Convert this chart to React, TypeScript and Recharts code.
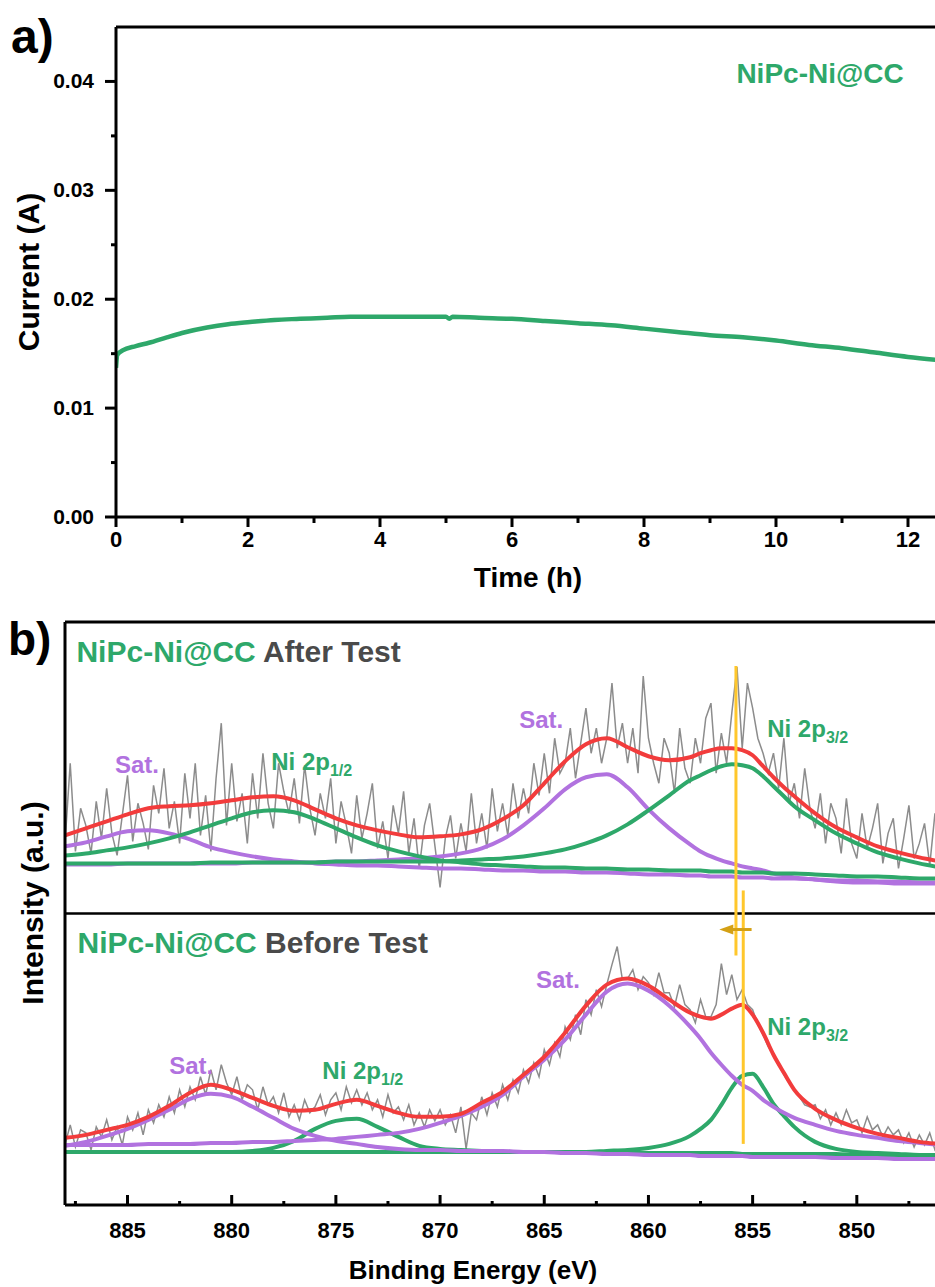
import React from "react";
import { LineChart, Line, XAxis, YAxis, ReferenceLine, ReferenceDot } from "recharts";

const FONT = "'Liberation Sans', Arial, Helvetica, sans-serif";
const GREEN = "#2ea86a";
const RED = "#f23c3c";
const PURPLE = "#b172df";
const RAW_GRAY = "#8c8c8c";
const TITLE_GRAY = "#4a4a4a";
const YELLOW = "#ffc72c";
const GOLD = "#d4a014";

// ---- panel a: chronoamperometry ----
const timeHours = [0, 0.02, 0.1, 0.3, 0.5, 0.77, 1, 1.38, 1.7, 2.03, 2.4, 2.79, 3.2, 3.55, 4, 4.3, 4.7, 5, 5.05, 5.1, 5.5, 6, 6.5, 7, 7.5, 8, 8.5, 9, 9.5, 10, 10.5, 11, 11.5, 12, 12.5];
const currentA = [0.0137, 0.0149, 0.0153, 0.0157, 0.016, 0.0165, 0.0169, 0.0174, 0.0177, 0.0179, 0.0181, 0.0182, 0.0183, 0.0184, 0.0184, 0.0184, 0.0184, 0.0184, 0.0182, 0.0184, 0.0183, 0.0182, 0.018, 0.0178, 0.0176, 0.0173, 0.017, 0.0167, 0.0165, 0.0162, 0.0158, 0.0155, 0.0151, 0.0147, 0.0144];
const timeTicks = [0, 1, 2, 3, 4, 5, 6, 7, 8, 9, 10, 11, 12, 13];
const currentTicks = [0, 0.005, 0.01, 0.015, 0.02, 0.025, 0.03, 0.035, 0.04];

// ---- panel b: Ni 2p XPS ----
const energyTicks = [847.5, 850, 852.5, 855, 857.5, 860, 862.5, 865, 867.5, 870, 872.5, 875, 877.5, 880, 882.5, 885, 887.5];
const fitEnergy = [888, 887, 886, 885, 884, 883, 882, 881, 880, 879, 878, 877, 876, 875, 874, 873, 872, 871, 870, 869, 868, 867, 866, 865, 864, 863, 862, 861, 860, 859, 858, 857.5, 857, 856.5, 856, 855.5, 855, 854.5, 854, 853.5, 853, 852, 851, 850, 849, 848, 847, 846];

// after test (upper spectrum)
const afterEnvelope = [78, 85, 92, 99, 105, 107, 108, 110, 113, 116, 117, 113, 104, 95, 88, 83, 79, 76, 77, 79, 84, 94, 108, 130, 152, 169, 175, 166, 157, 153, 156, 160, 163, 165, 165, 163, 158, 147, 136, 126, 117, 100, 86, 76, 67, 61, 56, 52];
const afterNi32 = [50, 50, 50, 50, 50, 50, 50, 51, 51, 51, 51, 51, 51, 52, 52, 52, 52, 52, 52, 53, 54, 55, 57, 60, 64, 70, 78, 89, 103, 118, 133, 138, 143, 147, 149, 148, 145, 137, 127, 117, 107, 93, 80, 70, 61, 55, 50, 46];
const afterNi12 = [58, 60, 63, 66, 70, 75, 81, 88, 95, 101, 103, 101, 94, 85, 76, 68, 62, 57, 53, 51, 49, 48, 47, 46, 46, 45, 45, 44, 44, 43, 43, 43, 42, 42, 42, 41, 41, 41, 40, 40, 40, 39, 38, 37, 37, 36, 35, 35];
const afterSatHigh = [67, 71, 77, 82, 83, 80, 74, 66, 61, 57, 54, 52, 50, 49, 48, 48, 47, 46, 45, 45, 44, 43, 43, 42, 42, 41, 41, 40, 39, 39, 38, 38, 37, 37, 37, 36, 36, 36, 35, 35, 35, 34, 33, 33, 32, 32, 31, 31];
const afterSatLow = [49, 49, 49, 50, 50, 50, 50, 50, 50, 51, 51, 51, 51, 52, 52, 53, 54, 55, 57, 60, 65, 74, 88, 105, 124, 136, 139, 126, 104, 85, 69, 62, 57, 53, 50, 47, 45, 43, 40, 38, 36, 34, 32, 31, 31, 30, 30, 30];
const afterRaw = [
  70, 150, 62, 105, 88, 60, 112, 75, 125, 80, 58, 98, 138, 72, 110, 90,
  64, 128, 100, 145, 85, 112, 70, 140, 95, 150, 78, 118, 62, 135, 190, 88,
  150, 92, 120, 70, 140, 95, 160, 110, 85, 150, 122, 100, 135, 90, 148, 105,
  78, 120, 95, 135, 70, 112, 88, 60, 118, 75, 100, 130, 65, 92, 55, 108,
  80, 122, 60, 95, 45, 88, 110, 68, 26, 75, 98, 55, 90, 62, 120, 70,
  100, 65, 125, 82, 110, 78, 130, 95, 125, 100, 150, 118, 160, 120, 175, 140,
  150, 185, 135, 170, 205, 160, 185, 150, 175, 230, 165, 190, 150, 185, 140, 237,
  175, 150, 130, 175, 160, 120, 185, 145, 130, 175, 150, 195, 210, 140, 180, 150,
  200, 246, 165, 230, 205, 175, 160, 140, 160, 125, 175, 110, 130, 95, 145, 105,
  85, 120, 70, 110, 95, 60, 115, 70, 55, 100, 65, 85, 110, 50, 80, 95,
  45, 75, 108, 55, 70, 90, 48, 100, 60,
];

// before test (lower spectrum)
const beforeEnvelope = [67, 70, 75, 80, 88, 99, 112, 120, 115, 107, 99, 94, 95, 101, 105, 99, 92, 88, 88, 91, 102, 113, 130, 148, 172, 199, 220, 226, 219, 205, 192, 188, 186, 190, 196, 200, 190, 172, 150, 132, 115, 96, 85, 77, 71, 67, 63, 61];
const beforeNi32 = [53, 53, 53, 53, 53, 53, 53, 53, 53, 53, 53, 53, 53, 53, 53, 53, 53, 53, 53, 53, 53, 53, 53, 53, 53, 53, 54, 55, 57, 61, 69, 76, 85, 100, 117, 129, 131, 118, 101, 89, 78, 63, 56, 53, 52, 51, 50, 50];
const beforeNi12 = [53, 53, 53, 53, 53, 53, 53, 53, 53, 54, 57, 64, 76, 84, 86, 78, 68, 59, 56, 55, 54, 53, 53, 53, 53, 53, 53, 52, 52, 52, 52, 52, 52, 52, 52, 51, 51, 51, 51, 51, 51, 51, 51, 50, 50, 50, 50, 50];
const beforeSatHigh = [59, 63, 69, 76, 85, 95, 106, 111, 108, 98, 87, 76, 69, 64, 61, 58, 56, 55, 55, 54, 54, 54, 53, 53, 52, 52, 51, 51, 50, 50, 50, 49, 49, 49, 49, 49, 48, 48, 48, 48, 48, 48, 47, 47, 47, 46, 46, 46];
const beforeSatLow = [60, 60, 60, 60, 61, 61, 61, 62, 62, 63, 63, 64, 65, 66, 68, 70, 72, 76, 82, 89, 98, 110, 128, 145, 165, 190, 213, 221, 214, 199, 178, 166, 152, 140, 129, 120, 114, 105, 98, 92, 87, 80, 74, 70, 67, 64, 62, 60];
const beforeRaw = [
  60, 80, 58, 75, 72, 55, 78, 68, 85, 65, 78, 60, 88, 75, 92, 70,
  95, 82, 100, 88, 108, 92, 115, 98, 118, 105, 128, 110, 135, 115, 140, 122,
  110, 128, 105, 120, 115, 95, 118, 100, 108, 92, 112, 88, 100, 85, 105, 92,
  98, 110, 90, 105, 112, 95, 118, 102, 115, 100, 112, 95, 105, 88, 110, 92,
  98, 85, 100, 80, 92, 78, 95, 84, 95, 80, 90, 72, 98, 56, 92, 85,
  108, 90, 112, 98, 120, 105, 125, 112, 135, 122, 142, 128, 155, 140, 162, 148,
  178, 165, 190, 170, 205, 190, 215, 198, 220, 240, 258, 225, 226, 235, 215, 228,
  222, 210, 232, 212, 212, 198, 220, 200, 195, 182, 205, 188, 188, 200, 241, 210,
  230, 205, 215, 200, 195, 180, 170, 158, 150, 140, 130, 122, 115, 108, 100, 98,
  100, 86, 95, 80, 92, 80, 95, 82, 85, 72, 88, 75, 80, 68, 78, 70,
  75, 62, 72, 58, 70, 60, 72, 55, 62,
];
const rawEnergy = afterRaw.map((_, i) => 888 - 0.25 * i);

const pair = (xs: number[], ys: number[]) => xs.map((e, i) => ({ e, v: ys[i] }));
const currentData = timeHours.map((t, i) => ({ t, i: currentA[i] }));

function TimeTick(props: any) {
  const { x, y, payload } = props;
  const major = payload.value % 2 === 0;
  return (
    <g>
      <line x1={x} x2={x} y1={y} y2={y + (major ? 10 : 6)} stroke="#000" strokeWidth={3} />
      {major && (
        <text x={x} y={y + 30} textAnchor="middle" fontSize={22} fontWeight="bold" fontFamily={FONT} fill="#000">
          {payload.value}
        </text>
      )}
    </g>
  );
}

function CurrentTick(props: any) {
  const { x, y, payload } = props;
  const v = payload.value;
  const major = Math.round(v * 1000) % 10 === 0;
  return (
    <g>
      <line x1={x - (major ? 11 : 5)} x2={x} y1={y} y2={y} stroke="#000" strokeWidth={3} />
      {major && (
        <text x={x - 22} y={y + 7} textAnchor="end" fontSize={21} fontWeight="bold" fontFamily={FONT} fill="#000">
          {v.toFixed(2)}
        </text>
      )}
    </g>
  );
}

function EnergyTick(props: any) {
  const { x, y, payload } = props;
  const major = payload.value % 5 === 0;
  return (
    <g>
      <line x1={x} x2={x} y1={y} y2={y - (major ? 10 : 4)} stroke="#000" strokeWidth={3} />
      {major && (
        <text x={x} y={y + 33} textAnchor="middle" fontSize={22} fontWeight="bold" fontFamily={FONT} fill="#000">
          {payload.value}
        </text>
      )}
    </g>
  );
}

const peakLabel = (text: string, sub: string | null, color: string) => (p: any) => (
  <text x={p.cx} y={p.cy} fill={color} fontSize={24} fontWeight="bold" fontFamily={FONT}>
    {text}
    {sub && (
      <tspan dy={6} fontSize={16}>
        {sub}
      </tspan>
    )}
  </text>
);

const sampleTitle = (state: string) => (p: any) => (
  <text x={p.cx} y={p.cy} fontSize={30} fontWeight="bold" fontFamily={FONT} style={{ whiteSpace: "pre" }}>
    <tspan fill={GREEN}>NiPc-Ni@CC</tspan>
    <tspan fill={TITLE_GRAY}>{" " + state}</tspan>
  </text>
);

const arrowHead = (p: any) => (
  <path d={`M${p.cx},${p.cy} L${p.cx + 14},${p.cy - 5} L${p.cx + 14},${p.cy + 5} Z`} fill={GOLD} />
);

const fitLine = (key: string, data: any[], color: string, axis: string) => (
  <Line
    key={key}
    data={data}
    dataKey="v"
    yAxisId={axis}
    type="monotone"
    stroke={color}
    strokeWidth={4}
    dot={false}
    isAnimationActive={false}
  />
);

export default function App() {
  const axisStyle = { stroke: "#000", strokeWidth: 3 };
  return (
    <div style={{ position: "absolute", left: 0, top: 0, width: 935, height: 1287, overflow: "hidden", background: "#fff" }}>
      <div style={{ position: "absolute", left: 0, top: 0 }}>
        <LineChart width={1000} height={600} data={currentData} margin={{ top: 27, right: 26, bottom: 0, left: 0 }}>
          <XAxis
            dataKey="t"
            type="number"
            domain={[0, 13]}
            ticks={timeTicks}
            interval={0}
            allowDataOverflow
            height={83}
            tickSize={0}
            tickMargin={0}
            tickLine={false}
            axisLine={axisStyle}
            tick={<TimeTick />}
            label={{
              content: () => (
                <text x={528} y={587} textAnchor="middle" fontSize={28} fontWeight="bold" fontFamily={FONT} fill="#000">
                  Time (h)
                </text>
              ),
            }}
          />
          <YAxis
            type="number"
            domain={[0, 0.045]}
            ticks={currentTicks}
            interval={0}
            allowDataOverflow
            width={116}
            tickSize={0}
            tickMargin={0}
            tickLine={false}
            axisLine={axisStyle}
            tick={<CurrentTick />}
            label={{
              content: () => (
                <text x={39} y={272} transform="rotate(-90 39 272)" textAnchor="middle" fontSize={30} fontWeight="bold" fontFamily={FONT} fill="#000">
                  Current (A)
                </text>
              ),
            }}
          />
          <ReferenceLine y={0.045} stroke="#000" strokeWidth={3} />
          <Line dataKey="i" type="monotone" stroke={GREEN} strokeWidth={4.5} dot={false} isAnimationActive={false} />
          <ReferenceDot x={9.4} y={0.0399} r={0} shape={(p: any) => (
            <text x={p.cx} y={p.cy} fill={GREEN} fontSize={28} fontWeight="bold" fontFamily={FONT}>
              NiPc-Ni@CC
            </text>
          )} />
        </LineChart>
      </div>

      <div style={{ position: "absolute", left: 0, top: 600 }}>
        <LineChart width={1000} height={687} margin={{ top: 22, right: 39, bottom: 0, left: 0 }}>
          <XAxis
            dataKey="e"
            type="number"
            domain={[845, 888]}
            reversed
            ticks={energyTicks}
            interval={0}
            allowDataOverflow
            height={82}
            tickSize={0}
            tickMargin={0}
            tickLine={false}
            axisLine={axisStyle}
            tick={<EnergyTick />}
            label={{
              content: () => (
                <text x={473} y={679} textAnchor="middle" fontSize={26} fontWeight="bold" fontFamily={FONT} fill="#000">
                  Binding Energy (eV)
                </text>
              ),
            }}
          />
          <YAxis
            yAxisId="top"
            type="number"
            domain={[-291, 291]}
            allowDataOverflow
            width={65}
            tick={false}
            tickLine={false}
            axisLine={axisStyle}
            label={{
              content: () => (
                <text x={43} y={303} transform="rotate(-90 43 303)" textAnchor="middle" fontSize={30} fontWeight="bold" fontFamily={FONT} fill="#000">
                  Intensity (a.u.)
                </text>
              ),
            }}
          />
          <YAxis yAxisId="bottom" type="number" domain={[0, 582]} allowDataOverflow hide width={0} />

          <ReferenceLine yAxisId="top" y={291} stroke="#000" strokeWidth={3} />
          <ReferenceLine yAxisId="top" y={0} stroke="#000" strokeWidth={2.5} />

          <Line data={pair(rawEnergy, afterRaw)} dataKey="v" yAxisId="top" type="linear" stroke={RAW_GRAY} strokeWidth={1.5} dot={false} isAnimationActive={false} />
          {fitLine("a-sh", pair(fitEnergy, afterSatHigh), PURPLE, "top")}
          {fitLine("a-sl", pair(fitEnergy, afterSatLow), PURPLE, "top")}
          {fitLine("a-12", pair(fitEnergy, afterNi12), GREEN, "top")}
          {fitLine("a-32", pair(fitEnergy, afterNi32), GREEN, "top")}
          {fitLine("a-env", pair(fitEnergy, afterEnvelope), RED, "top")}

          <Line data={pair(rawEnergy, beforeRaw)} dataKey="v" yAxisId="bottom" type="linear" stroke={RAW_GRAY} strokeWidth={1.5} dot={false} isAnimationActive={false} />
          {fitLine("b-12", pair(fitEnergy, beforeNi12), GREEN, "bottom")}
          {fitLine("b-32", pair(fitEnergy, beforeNi32), GREEN, "bottom")}
          {fitLine("b-sh", pair(fitEnergy, beforeSatHigh), PURPLE, "bottom")}
          {fitLine("b-sl", pair(fitEnergy, beforeSatLow), PURPLE, "bottom")}
          {fitLine("b-env", pair(fitEnergy, beforeEnvelope), RED, "bottom")}

          <ReferenceLine yAxisId="top" segment={[{ x: 855.8, y: 247 }, { x: 855.8, y: -42 }]} stroke={YELLOW} strokeWidth={3} ifOverflow="visible" />
          <ReferenceLine yAxisId="bottom" segment={[{ x: 855.45, y: 314 }, { x: 855.45, y: 61 }]} stroke={YELLOW} strokeWidth={3} ifOverflow="visible" />
          <ReferenceLine yAxisId="bottom" segment={[{ x: 855.05, y: 275 }, { x: 856.2, y: 275 }]} stroke={GOLD} strokeWidth={3} ifOverflow="visible" />
          <ReferenceDot yAxisId="bottom" x={856.6} y={275} r={0} shape={arrowHead} />

          <ReferenceDot yAxisId="top" x={887.45} y={251} r={0} shape={sampleTitle("After Test")} />
          <ReferenceDot yAxisId="bottom" x={887.4} y={252} r={0} shape={sampleTitle("Before Test")} />

          <ReferenceDot yAxisId="top" x={885.6} y={140} r={0} shape={peakLabel("Sat.", null, PURPLE)} />
          <ReferenceDot yAxisId="top" x={878.1} y={143} r={0} shape={peakLabel("Ni 2p", "1/2", GREEN)} />
          <ReferenceDot yAxisId="top" x={866.2} y={185} r={0} shape={peakLabel("Sat.", null, PURPLE)} />
          <ReferenceDot yAxisId="top" x={854.3} y={176} r={0} shape={peakLabel("Ni 2p", "3/2", GREEN)} />
          <ReferenceDot yAxisId="bottom" x={883.0} y={131} r={0} shape={peakLabel("Sat.", null, PURPLE)} />
          <ReferenceDot yAxisId="bottom" x={875.65} y={126} r={0} shape={peakLabel("Ni 2p", "1/2", GREEN)} />
          <ReferenceDot yAxisId="bottom" x={865.4} y={217} r={0} shape={peakLabel("Sat.", null, PURPLE)} />
          <ReferenceDot yAxisId="bottom" x={854.3} y={170} r={0} shape={peakLabel("Ni 2p", "3/2", GREEN)} />
        </LineChart>
      </div>

      <svg style={{ position: "absolute", left: 0, top: 0, pointerEvents: "none" }} width={935} height={1287}>
        <text x={11} y={53} fontSize={48} fontWeight="bold" fontFamily={FONT} fill="#000">a)</text>
        <text x={8} y={655} fontSize={46} fontWeight="bold" fontFamily={FONT} fill="#000">b)</text>
      </svg>
    </div>
  );
}
